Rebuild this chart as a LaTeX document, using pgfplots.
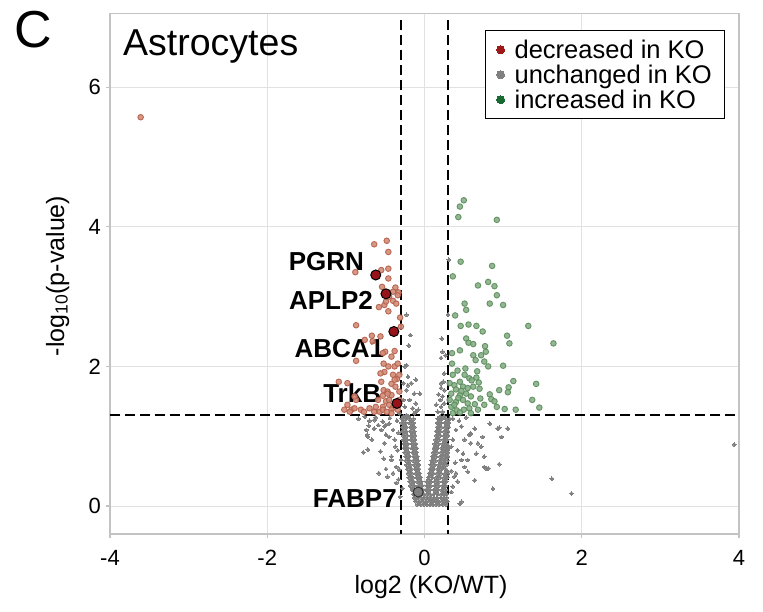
\documentclass[border=0pt]{standalone}
\usepackage{fontspec}
\setmainfont{Liberation Sans}
\usepackage{pgfplots}
\pgfplotsset{compat=1.18}
\definecolor{decring}{RGB}{180,95,75}
\definecolor{decfill}{RGB}{210,140,120}
\definecolor{incring}{RGB}{90,140,90}
\definecolor{incfill}{RGB}{135,175,135}
\definecolor{ptgray}{RGB}{128,128,128}
\definecolor{hired}{RGB}{150,20,25}
\definecolor{decleg}{RGB}{155,25,25}
\definecolor{incleg}{RGB}{25,105,50}
\definecolor{axgray}{RGB}{195,195,195}
\definecolor{gridgray}{RGB}{225,225,225}
\begin{document}
\begin{tikzpicture}
\begin{axis}[
  at={(110pt,77pt)}, anchor=south west, scale only axis,
  width=629pt, height=520.7pt,
  xmin=-4, xmax=4, ymin=-0.401, ymax=7.059,
  xtick={-4,-2,0,2,4}, xticklabels={-4,-2,0,2,4},
  ytick={0,2,4,6}, yticklabels={0,2,4,6},
  tick align=outside, major tick length=4pt,
  xtick pos=left, ytick pos=left,
  tick style={axgray, line width=1.2pt},
  axis line style={axgray, line width=1.5pt},
  grid=major, major grid style={gridgray, line width=1pt},
  xticklabel style={font=\fontsize{22}{22}\selectfont, inner sep=0pt, yshift=-12pt},
  yticklabel style={font=\fontsize{22}{22}\selectfont, inner sep=0pt, xshift=-5pt},
  legend style={at={(axis description cs:0.596,0.968)}, anchor=north west,
    draw=black, line width=1.5pt, fill=white,
    font=\fontsize{25.5}{25.5}\selectfont, inner xsep=11pt, inner ysep=7pt,
    row sep=1pt, /tikz/every odd column/.append style={column sep=8pt}},
  legend cell align=left,
]
\addlegendimage{decleg, only marks, mark=*, mark size=4pt, mark options={solid, draw=decleg, fill=decleg, line width=0pt}}
\addlegendentry{decreased in KO}
\addlegendimage{ptgray, only marks, mark=*, mark size=4pt, mark options={solid, draw=ptgray, fill=ptgray, line width=0pt}}
\addlegendentry{unchanged in KO}
\addlegendimage{incleg, only marks, mark=*, mark size=4pt, mark options={solid, draw=incleg, fill=incleg, line width=0pt}}
\addlegendentry{increased in KO}

% unchanged: V-shaped cloud
\addplot[ptgray, only marks, mark=*, mark size=1.9pt, mark options={solid, draw=ptgray, fill=ptgray, line width=0pt}, forget plot] coordinates {
(-0.09,0.02)(-0.05,0.02)(-0.01,0.02)(0.03,0.02)(0.07,0.02)(0.11,0.02)(0.15,0.02)(0.19,0.02)(0.23,0.02)(0.27,0.02)
(-0.12,0.07)(-0.07,0.07)(-0.03,0.07)(0.02,0.07)(0.06,0.07)(0.10,0.07)(0.14,0.07)(0.18,0.07)(0.22,0.07)(0.26,0.07)(0.29,0.07)
(-0.13,0.12)(-0.09,0.12)(-0.04,0.12)(0.00,0.12)(0.04,0.12)(0.08,0.12)(0.12,0.12)(0.16,0.12)(0.21,0.12)(0.25,0.12)(0.28,0.12)
(-0.14,0.17)(-0.10,0.17)(-0.06,0.17)(-0.01,0.17)(0.03,0.17)(0.07,0.17)(0.12,0.17)(0.17,0.17)(0.21,0.17)(0.25,0.17)(0.28,0.17)
(-0.16,0.23)(-0.11,0.23)(-0.07,0.23)(-0.02,0.23)(0.02,0.23)(0.07,0.23)(0.12,0.23)(0.17,0.23)(0.22,0.23)(0.27,0.23)
(-0.18,0.29)(-0.13,0.29)(-0.08,0.29)(-0.03,0.29)(0.03,0.29)(0.08,0.29)(0.13,0.29)(0.18,0.29)(0.23,0.29)(0.27,0.29)
(-0.19,0.35)(-0.14,0.35)(-0.09,0.35)(-0.04,0.35)(0.03,0.35)(0.08,0.35)(0.13,0.35)(0.18,0.35)(0.23,0.35)(0.28,0.35)
(-0.20,0.41)(-0.15,0.41)(-0.10,0.41)(-0.05,0.41)(0.05,0.41)(0.10,0.41)(0.15,0.41)(0.20,0.41)(0.25,0.41)(0.29,0.41)
(-0.21,0.47)(-0.16,0.47)(-0.11,0.47)(-0.06,0.47)(0.06,0.47)(0.11,0.47)(0.16,0.47)(0.21,0.47)(0.26,0.47)(0.30,0.47)
(-0.22,0.53)(-0.17,0.53)(-0.12,0.53)(-0.07,0.53)(0.07,0.53)(0.12,0.53)(0.17,0.53)(0.22,0.53)(0.27,0.53)
(-0.23,0.59)(-0.18,0.59)(-0.13,0.59)(-0.07,0.59)(0.08,0.59)(0.13,0.59)(0.18,0.59)(0.23,0.59)(0.28,0.59)
(-0.24,0.65)(-0.19,0.65)(-0.14,0.65)(-0.08,0.65)(0.09,0.65)(0.14,0.65)(0.19,0.65)(0.24,0.65)(0.29,0.65)
(-0.24,0.71)(-0.19,0.71)(-0.14,0.71)(-0.09,0.71)(0.10,0.71)(0.15,0.71)(0.20,0.71)(0.25,0.71)(0.30,0.71)
(-0.25,0.77)(-0.20,0.77)(-0.15,0.77)(-0.10,0.77)(0.11,0.77)(0.16,0.77)(0.21,0.77)(0.26,0.77)(0.30,0.77)
(-0.26,0.83)(-0.21,0.83)(-0.16,0.83)(-0.10,0.83)(0.12,0.83)(0.17,0.83)(0.22,0.83)(0.27,0.83)(0.31,0.83)
(-0.26,0.89)(-0.21,0.89)(-0.16,0.89)(-0.11,0.89)(0.13,0.89)(0.18,0.89)(0.23,0.89)(0.28,0.89)
(-0.27,0.95)(-0.22,0.95)(-0.17,0.95)(-0.12,0.95)(0.14,0.95)(0.19,0.95)(0.24,0.95)(0.29,0.95)
(-0.27,1.01)(-0.22,1.01)(-0.17,1.01)(-0.12,1.01)(0.15,1.01)(0.20,1.01)(0.25,1.01)(0.30,1.01)
(-0.28,1.07)(-0.23,1.07)(-0.18,1.07)(-0.13,1.07)(0.15,1.07)(0.20,1.07)(0.25,1.07)(0.30,1.07)
(-0.28,1.13)(-0.23,1.13)(-0.18,1.13)(-0.13,1.13)(0.16,1.13)(0.21,1.13)(0.26,1.13)(0.31,1.13)
(-0.29,1.19)(-0.24,1.19)(-0.19,1.19)(-0.14,1.19)(0.16,1.19)(0.21,1.19)(0.26,1.19)(0.31,1.19)
(-0.29,1.25)(-0.24,1.25)(-0.19,1.25)(-0.14,1.25)(0.17,1.25)(0.22,1.25)(0.27,1.25)(0.32,1.25)
(-0.07,0.04)(0.01,0.04)(0.09,0.04)(0.17,0.04)(0.25,0.04)
(-0.11,0.10)(-0.02,0.10)(0.06,0.10)(0.14,0.10)(0.23,0.10)
(-0.12,0.20)(-0.04,0.20)(0.05,0.20)(0.15,0.20)(0.24,0.20)
(-0.15,0.26)(-0.05,0.26)(0.05,0.26)(0.15,0.26)(0.25,0.26)
(-0.16,0.32)(-0.06,0.32)(0.06,0.32)(0.16,0.32)(0.25,0.32)
(-0.17,0.38)(-0.07,0.38)(0.06,0.38)(0.16,0.38)(0.26,0.38)
(-0.18,0.44)(-0.08,0.44)(0.08,0.44)(0.18,0.44)(0.27,0.44)
(-0.19,0.50)(-0.09,0.50)(0.09,0.50)(0.19,0.50)(0.29,0.50)
(-0.20,0.56)(-0.10,0.56)(0.10,0.56)(0.20,0.56)(0.25,0.56)
(-0.21,0.62)(-0.11,0.62)(0.11,0.62)(0.21,0.62)(0.26,0.62)
(-0.22,0.68)(-0.12,0.68)(0.12,0.68)(0.22,0.68)(0.27,0.68)
(-0.22,0.74)(-0.12,0.74)(0.13,0.74)(0.23,0.74)(0.28,0.74)
(-0.23,0.80)(-0.13,0.80)(0.14,0.80)(0.24,0.80)(0.29,0.80)
(-0.24,0.86)(-0.14,0.86)(0.15,0.86)(0.25,0.86)(0.30,0.86)
(-0.24,0.92)(-0.14,0.92)(0.16,0.92)(0.26,0.92)
(-0.25,0.98)(-0.15,0.98)(0.17,0.98)(0.27,0.98)
(-0.25,1.04)(-0.15,1.04)(0.18,1.04)(0.28,1.04)
(-0.26,1.10)(-0.16,1.10)(0.18,1.10)(0.28,1.10)
(-0.26,1.16)(-0.16,1.16)(0.19,1.16)(0.29,1.16)
(-0.27,1.22)(-0.17,1.22)(0.19,1.22)(0.29,1.22)
(-0.27,1.28)(-0.20,1.28)(0.20,1.28)(0.25,1.28)
};
% unchanged: scattered points
\addplot[ptgray, only marks, mark=*, mark size=1.9pt, mark options={solid, draw=ptgray, fill=ptgray, line width=0pt}, forget plot] coordinates {
(-0.70,1.22)(-0.64,1.23)(-0.71,1.15)(-0.59,1.16)(-0.53,1.21)(-0.51,1.14)(-0.55,1.09)(-0.73,1.02)(-0.67,0.95)(-0.49,1.02)
(-0.51,0.90)(-0.78,0.77)(-0.72,0.81)(-0.56,0.78)(-0.52,0.68)(-0.58,0.47)(-0.49,0.53)(-0.47,0.42)(-0.76,1.28)(-0.72,0.99)
(-0.74,1.09)(-0.64,1.11)(-0.45,1.18)(-0.40,1.09)(-0.38,0.95)(-0.34,0.80)(-0.42,0.66)(-0.32,0.52)(-0.40,0.47)(-0.36,0.33)
(-0.31,0.13)(-0.49,1.16)(-0.45,0.99)(-0.42,0.71)(-0.36,0.56)(-0.84,1.25)(-0.62,1.27)(-0.44,1.26)(-0.35,1.22)(-0.33,1.05)
(-0.37,0.85)(-0.30,0.66)(-0.33,0.38)(-0.28,0.25)
(0.40,1.09)(0.47,1.14)(0.36,0.95)(0.42,0.80)(0.47,0.66)(0.51,0.95)(0.59,1.04)(0.68,0.90)(0.74,0.99)(0.83,1.18)
(0.93,1.11)(1.06,1.11)(0.78,0.54)(0.87,0.25)(0.47,0.06)(0.64,0.37)(0.38,0.42)(0.34,0.20)(0.55,0.49)(0.57,1.02)
(0.64,1.11)(0.72,0.85)(0.66,0.75)(0.76,0.71)(0.59,0.90)(0.49,0.75)(0.55,0.66)(0.51,0.56)(0.40,0.47)(0.42,0.35)
(0.36,0.28)(0.81,0.54)(0.95,1.12)(0.98,0.99)(0.95,0.60)(0.76,0.56)(0.45,0.03)(3.94,0.88)(1.62,0.39)(1.87,0.18)
(0.36,1.25)(0.44,1.22)(0.53,1.27)(0.39,0.62)(0.34,0.85)(0.34,0.50)
(-0.23,2.74)(0.30,2.74)(0.31,3.53)(-0.25,2.00)(-0.21,1.85)(-0.17,1.76)(-0.23,1.66)(-0.13,1.61)(-0.19,1.52)(-0.25,1.42)
(-0.15,1.40)(-0.11,1.35)(-0.27,1.76)(-0.21,1.73)(-0.27,1.52)(-0.11,1.47)(-0.32,1.33)(-0.23,1.30)(-0.13,1.33)(-0.23,2.02)
(-0.11,1.81)(-0.06,1.61)(-0.08,1.38)(0.23,2.21)(0.27,2.16)(0.21,2.12)(0.24,1.78)(0.21,1.69)(0.25,1.66)(0.23,1.57)
(0.20,1.52)(0.25,1.47)(0.21,1.42)(0.23,1.35)(0.25,1.90)(0.21,1.76)(0.17,1.35)(0.15,1.45)(0.18,1.60)(-0.20,2.30)
(-0.18,2.45)(0.22,2.40)
};
% decreased in KO
\addplot[only marks, mark=*, mark size=2.8pt, mark options={solid, draw=decring, fill=decfill, line width=0.9pt, opacity=0.9}, forget plot] coordinates {
(-3.61,5.57)(-0.64,3.75)(-0.48,3.80)(-0.46,3.64)(-0.88,3.35)(-0.55,3.38)(-0.46,3.40)(-0.46,3.26)(-0.54,3.14)(-0.37,3.13)
(-0.40,3.07)(-0.33,3.06)(-0.45,3.00)(-0.40,2.94)(-0.36,2.90)(-0.51,2.88)(-0.58,2.85)(-0.46,2.79)(-0.31,2.70)(-0.87,2.59)
(-0.49,2.93)(-0.30,2.57)(-0.34,3.02)(-0.67,2.44)(-0.56,2.43)(-0.66,2.36)(-0.76,2.38)(-0.87,2.08)(-0.50,2.21)(-0.38,2.22)
(-0.42,2.14)(-0.52,2.04)(-0.46,2.00)(-0.38,2.00)(-0.34,2.04)(-0.53,2.19)(-0.51,1.92)(-0.56,1.90)(-0.40,1.88)(-0.35,1.82)
(-0.55,1.78)(-0.42,1.75)(-0.37,1.71)(-0.52,1.66)(-0.47,1.64)(-0.32,1.64)(-0.42,1.59)(-0.53,1.58)(-0.59,1.52)(-0.49,1.50)
(-0.45,1.45)(-0.40,1.41)(-0.53,1.42)(-0.32,1.52)(-0.42,1.38)(-0.34,1.38)(-0.98,1.45)(-0.93,1.38)(-0.81,1.38)(-1.09,1.78)
(-0.98,1.76)(-1.02,1.38)(-0.89,1.40)(-0.77,1.35)(-0.95,1.35)(-0.87,1.52)(-0.64,1.35)(-0.57,1.35)(-0.89,1.57)(-0.42,1.33)
(-0.53,1.38)(-0.38,1.81)(-0.32,1.88)(-0.47,1.61)(-0.45,1.52)(-0.62,1.42)(-0.70,1.40)(-0.36,1.46)(-0.48,1.35)
};
% increased in KO
\addplot[only marks, mark=*, mark size=2.8pt, mark options={solid, draw=incring, fill=incfill, line width=0.9pt, opacity=0.9}, forget plot] coordinates {
(0.50,4.38)(0.45,4.29)(0.43,4.14)(0.92,4.10)(0.46,3.50)(0.86,3.44)(0.36,3.29)(0.68,3.16)(0.81,3.21)(0.89,3.15)
(0.92,3.02)(0.51,2.90)(0.83,2.90)(1.00,2.88)(0.53,2.81)(0.39,2.73)(0.46,2.58)(0.56,2.60)(0.66,2.58)(0.74,2.50)
(1.32,2.58)(1.05,2.44)(1.08,2.33)(1.64,2.33)(0.53,2.40)(0.56,2.34)(0.62,2.32)(0.77,2.29)(0.78,2.21)(0.45,2.23)
(0.35,2.19)(0.62,2.16)(0.65,2.09)(0.72,2.16)(0.76,2.07)(0.81,2.00)(1.00,2.01)(0.35,2.04)(0.42,1.94)(0.52,1.97)
(0.67,1.93)(0.51,1.88)(0.57,1.83)(0.66,1.84)(0.69,1.77)(0.32,1.76)(0.38,1.73)(0.45,1.78)(0.40,1.67)(0.49,1.71)
(0.55,1.69)(0.62,1.71)(1.13,1.79)(1.42,1.75)(1.07,1.70)(0.95,1.66)(1.06,1.63)(0.83,1.60)(0.34,1.61)(0.45,1.59)
(0.53,1.61)(0.59,1.57)(0.71,1.54)(0.85,1.53)(0.89,1.50)(1.37,1.52)(0.32,1.52)(0.40,1.49)(0.49,1.52)(0.55,1.47)
(0.92,1.42)(1.02,1.39)(1.16,1.38)(1.46,1.41)(0.34,1.42)(0.41,1.37)(0.50,1.38)(0.57,1.40)(0.68,1.38)(0.36,1.33)
(0.45,1.34)(0.59,1.33)(0.38,1.45)(0.43,1.55)(0.47,1.65)(0.36,1.88)(0.60,1.80)(0.70,1.68)(0.76,1.45)(0.64,1.46)
};
% thresholds
\addplot[black, line width=2.2pt, dash pattern=on 10pt off 5pt, forget plot] coordinates {(-0.3,6.96) (-0.3,-0.401)};
\addplot[black, line width=2.2pt, dash pattern=on 10pt off 5pt, forget plot] coordinates {(0.3,6.96) (0.3,-0.401)};
\addplot[black, line width=2.2pt, dash pattern=on 10pt off 5pt, forget plot] coordinates {(-4,1.3) (4,1.3)};
% highlighted proteins
\addplot[only marks, mark=*, mark size=5pt, mark options={solid, draw=black, fill=hired, line width=1pt}, forget plot] coordinates {
(-0.62,3.31)(-0.49,3.04)(-0.39,2.50)(-0.35,1.47)};
\addplot[only marks, mark=*, mark size=5pt, mark options={solid, draw=black!80, fill=ptgray, line width=1pt}, forget plot] coordinates {
(-0.08,0.20)};
\node[anchor=east, inner sep=0pt, font=\bfseries\fontsize{26}{26}\selectfont] at (axis cs:-0.767,3.50) {PGRN};
\node[anchor=east, inner sep=0pt, font=\bfseries\fontsize{26}{26}\selectfont] at (axis cs:-0.654,2.94) {APLP2};
\node[anchor=east, inner sep=0pt, font=\bfseries\fontsize{26}{26}\selectfont] at (axis cs:-0.51,2.25) {ABCA1};
\node[anchor=east, inner sep=0pt, font=\bfseries\fontsize{26}{26}\selectfont] at (axis cs:-0.55,1.62) {TrkB};
\node[anchor=east, inner sep=0pt, font=\bfseries\fontsize{26}{26}\selectfont] at (axis cs:-0.35,0.11) {FABP7};
\end{axis}
\node[anchor=base west, inner sep=0pt, font=\fontsize{52}{52}\selectfont] at (14pt,563pt) {C};
\node[anchor=base west, inner sep=0pt, font=\fontsize{37.5}{37.5}\selectfont] at (123pt,555pt) {Astrocytes};
\node[anchor=base, inner sep=0pt, rotate=90, font=\fontsize{25}{25}\selectfont] at (64pt,335pt) {-log\textsubscript{10}(p-value)};
\node[anchor=base, inner sep=0pt, font=\fontsize{25}{25}\selectfont] at (431pt,18pt) {log2 (KO/WT)};
\pgfresetboundingbox
\path[use as bounding box] (0,0) rectangle (763pt,611pt);
\end{tikzpicture}
\end{document}
